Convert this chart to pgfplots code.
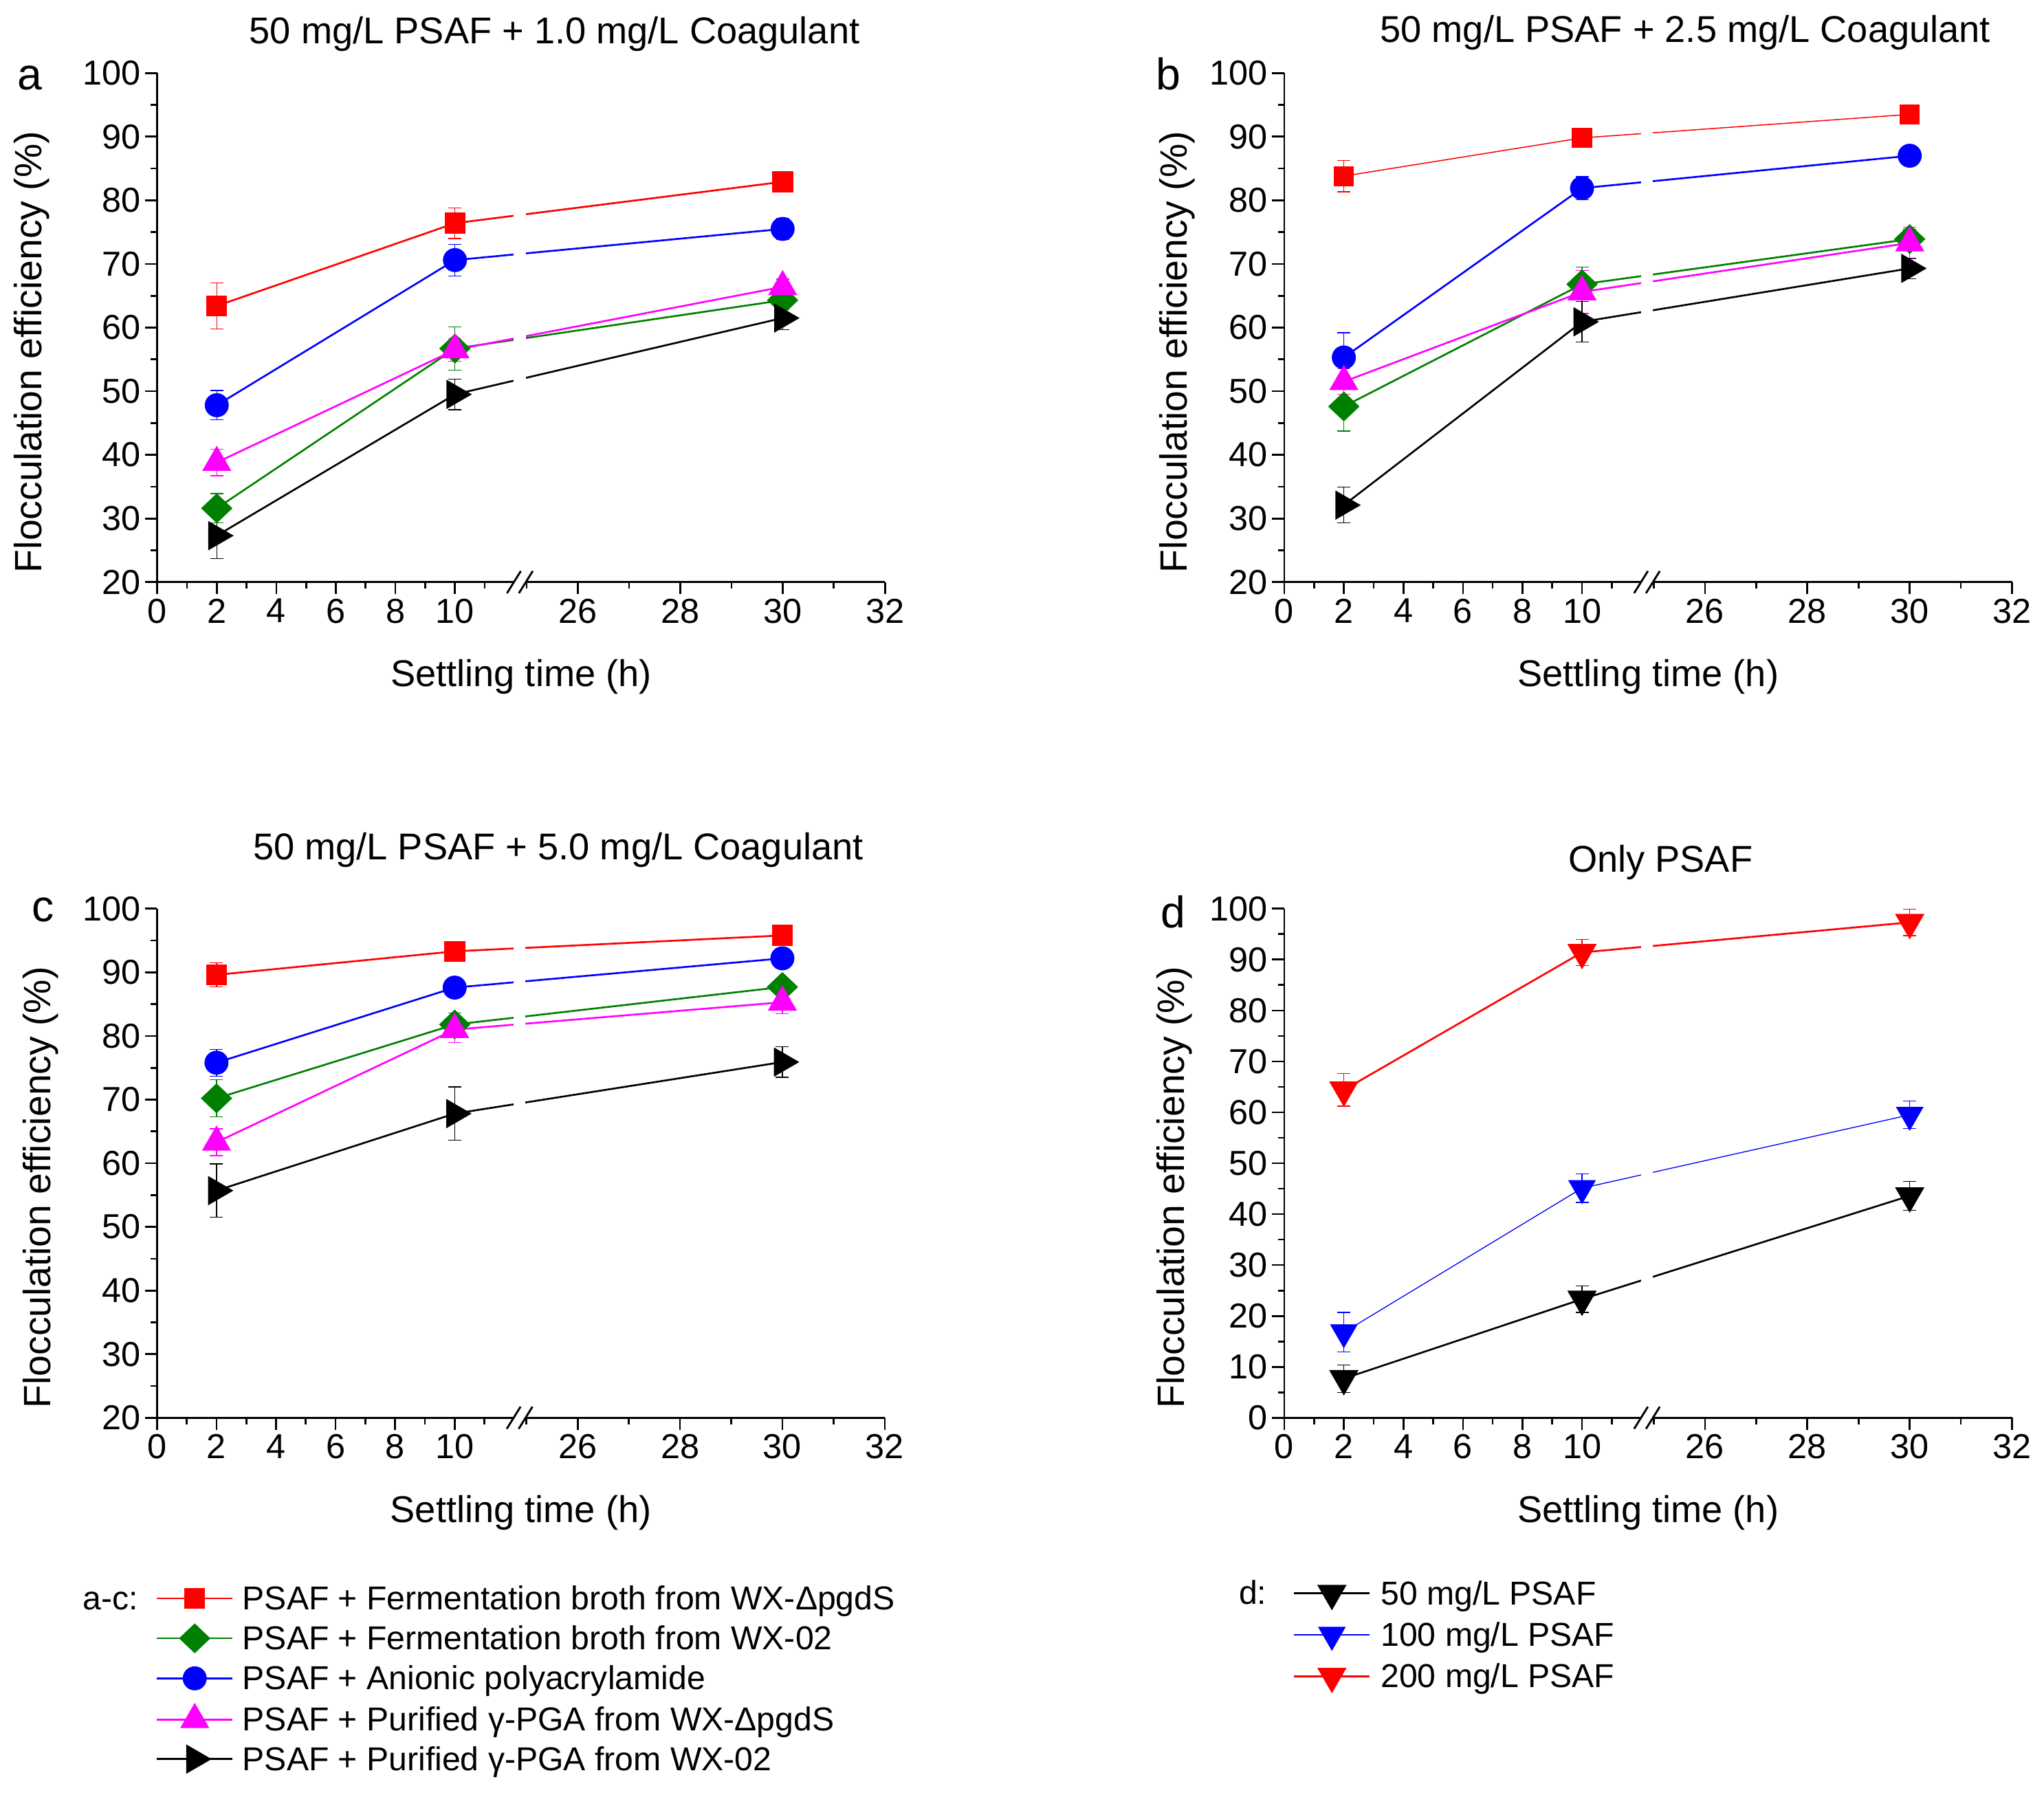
\documentclass[border=0pt]{standalone}
\usepackage{fontspec}
\setmainfont{Liberation Sans}
\usepackage{pgfplots}
\usepackage{pgfplotstable}
\pgfplotsset{compat=1.18}
\definecolor{mygreen}{RGB}{0,128,0}
\definecolor{mymag}{RGB}{255,0,255}
\definecolor{myred}{RGB}{255,0,0}
\definecolor{myblue}{RGB}{0,0,255}
\newcommand{\ticksize}{\fontsize{13.3pt}{15pt}\selectfont}
\newcommand{\labsize}{\fontsize{14.3pt}{16pt}\selectfont}
\newcommand{\ylabsize}{\fontsize{14.6pt}{16pt}\selectfont}
\newcommand{\legsize}{\fontsize{12.7pt}{14pt}\selectfont}
\newcommand{\letsize}{\fontsize{17pt}{19pt}\selectfont}

% ---------- data: t = settling time (h), y = efficiency (%), e = error ----------
\pgfplotstableread{
t y e
2 63.4 3.6
10 76.4 2.4
30 82.9 1.5
}\aRed
\pgfplotstableread{
t y e
2 31.6 2.3
10 56.7 3.4
30 64.3 1.5
}\aGreen
\pgfplotstableread{
t y e
2 47.8 2.3
10 70.6 2.5
30 75.5 1.7
}\aBlue
\pgfplotstableread{
t y e
2 38.8 2.1
10 56.5 1.8
30 66.4 1.2
}\aMag
\pgfplotstableread{
t y e
2 27.3 3.6
10 49.5 2.4
30 61.5 1.8
}\aBlack

\pgfplotstableread{
t y e
2 83.8 2.45
10 89.8 0.9
30 93.5 0.8
}\bRed
\pgfplotstableread{
t y e
2 47.6 3.85
10 66.8 2.7
30 73.9 1.5
}\bGreen
\pgfplotstableread{
t y e
2 55.3 3.9
10 81.9 1.8
30 87.0 1.0
}\bBlue
\pgfplotstableread{
t y e
2 51.5 2.0
10 65.6 3.4
30 73.3 2.5
}\bMag
\pgfplotstableread{
t y e
2 32.1 2.8
10 60.9 3.2
30 69.3 1.6
}\bBlack

\pgfplotstableread{
t y e
2 89.6 1.9
10 93.3 1.0
30 95.8 1.0
}\cRed
\pgfplotstableread{
t y e
2 70.2 2.9
10 81.8 1.8
30 87.7 1.0
}\cGreen
\pgfplotstableread{
t y e
2 75.8 2.1
10 87.6 1.0
30 92.2 1.5
}\cBlue
\pgfplotstableread{
t y e
2 63.3 2.1
10 81.0 2.0
30 85.3 1.8
}\cMag
\pgfplotstableread{
t y e
2 55.7 4.2
10 67.8 4.2
30 75.9 2.4
}\cBlack

\pgfplotstableread{
t y e
2 7.7 2.7
10 23.3 2.6
30 43.6 2.8
}\dBlack
\pgfplotstableread{
t y e
2 16.8 3.9
10 45.1 2.8
30 59.5 2.7
}\dBlue
\pgfplotstableread{
t y e
2 64.4 3.2
10 91.4 2.6
30 97.3 2.6
}\dRed

% broken time axis: 0..12 and 24.8..32, the right part drawn 1.719 times wider
\newcommand{\ux}{\thisrow{t}+(\thisrow{t}>20)*(0.719*\thisrow{t}-30.564)}

\pgfplotsset{
  panel/.style={
    scale only axis, width=279.15pt, height=195.3pt,
    xmin=0, xmax=24.444,
    axis x line*=bottom, axis y line*=left,
    axis line style={line width=0.75pt, -},
    tick align=outside,
    major tick length=4.65pt, minor tick length=2.45pt,
    every tick/.style={line width=0.7pt, black},
    xtick={0,2,4,6,8,10,14.13,17.568,21.006,24.444},
    xticklabels={0,2,4,6,8,10,26,28,30,32},
    minor xtick={1,3,5,7,9,11,12.41,15.849,19.287,22.725},
    ytick distance=10, minor y tick num=1,
    tick label style={font=\ticksize},
    xticklabel style={inner sep=0pt, anchor=north, yshift=-1.5pt},
    yticklabel style={inner sep=0pt, anchor=east, xshift=-1.5pt},
    /pgf/number format/assume math mode=true,
    clip=false,
    xlabel={Settling time (h)}, ylabel={Flocculation efficiency (\%)},
    xlabel style={font=\labsize, at={(axis description cs:0.5,0)}, anchor=base, yshift=-40pt},
    ylabel style={font=\ylabsize},
    legend cell align=left,
    legend image code/.code={\draw[mark repeat=2,mark phase=2,##1] plot coordinates {(0pt,0pt) (14.5pt,0pt) (29pt,0pt)};},
  },
  eb/.style={error bars/y dir=both, error bars/y explicit,
    error bars/error bar style={line width=0.35pt, solid},
    error bars/error mark options={rotate=90, mark size=2.5pt, line width=0.35pt}},
  sRed/.style={myred, line width=0.7pt, mark=square*, mark size=3.65pt, eb},
  sGreen/.style={mygreen, line width=0.7pt, mark=diamond*, mark size=5.25pt, mark options={xscale=1.4}, eb},
  sBlue/.style={myblue, line width=0.7pt, mark=*, mark size=4.25pt, eb},
  sMag/.style={mymag, line width=0.7pt, mark=triangle*, mark size=5.75pt, eb},
  sBlack/.style={black, line width=0.7pt, mark=triangle*, mark size=5.8pt, mark options={rotate=-90}, eb},
  sDown/.style={mark=triangle*, mark size=5.8pt, mark options={rotate=180}, eb},
}

\begin{document}
\begin{tikzpicture}
\useasboundingbox (0,0) rectangle (784pt,688.3pt);

% ---------------- panel a ----------------
\begin{axis}[panel, at={(60.3pt,465pt)}, anchor=south west,
  ymin=20, ymax=100,
  ylabel style={at={(axis description cs:-0.1585,0.452)}, anchor=base}]
\addplot[sRed] table[x expr={\ux}, y=y, y error=e]{\aRed};
\addplot[sGreen] table[x expr={\ux}, y=y, y error=e]{\aGreen};
\addplot[sBlue] table[x expr={\ux}, y=y, y error=e]{\aBlue};
\addplot[sMag] table[x expr={\ux}, y=y, y error=e]{\aMag};
\addplot[sBlack] table[x expr={\ux}, y=y, y error=e]{\aBlack};
\coordinate (A1) at (axis cs:11.98,20);
\coordinate (A2) at (axis cs:12.38,20);
\coordinate (A3) at (axis cs:12.38,100);
\end{axis}

% ---------------- panel b ----------------
\begin{axis}[panel, at={(492.6pt,465pt)}, anchor=south west,
  ymin=20, ymax=100,
  ylabel style={at={(axis description cs:-0.134,0.452)}, anchor=base}]
\addplot[sRed, line width=0.4pt] table[x expr={\ux}, y=y, y error=e]{\bRed};
\addplot[sGreen] table[x expr={\ux}, y=y, y error=e]{\bGreen};
\addplot[sBlue] table[x expr={\ux}, y=y, y error=e]{\bBlue};
\addplot[sMag] table[x expr={\ux}, y=y, y error=e]{\bMag};
\addplot[sBlack] table[x expr={\ux}, y=y, y error=e]{\bBlack};
\coordinate (B1) at (axis cs:11.98,20);
\coordinate (B2) at (axis cs:12.38,20);
\coordinate (B3) at (axis cs:12.38,100);
\end{axis}

% ---------------- panel c ----------------
\begin{axis}[panel, at={(60.2pt,144.45pt)}, anchor=south west,
  ymin=20, ymax=100,
  ylabel style={at={(axis description cs:-0.1462,0.4524)}, anchor=base},
  legend style={at={(-0.0013,-0.3305)}, anchor=north west, draw=none, fill=none,
    inner sep=0pt, outer sep=0pt, font=\legsize, row sep=5.4pt,
    nodes={inner sep=0pt, text height=9pt, text depth=0.4pt},
    /tikz/every odd column/.append style={column sep=3.5pt}}]
\addplot[sRed] table[x expr={\ux}, y=y, y error=e]{\cRed};
\addlegendentry{PSAF + Fermentation broth from WX-ΔpgdS}
\addplot[sGreen] table[x expr={\ux}, y=y, y error=e]{\cGreen};
\addlegendentry{PSAF + Fermentation broth from WX-02}
\addplot[sBlue] table[x expr={\ux}, y=y, y error=e]{\cBlue};
\addlegendentry{PSAF + Anionic polyacrylamide}
\addplot[sMag] table[x expr={\ux}, y=y, y error=e]{\cMag};
\addlegendentry{PSAF + Purified γ-PGA from WX-ΔpgdS}
\addplot[sBlack] table[x expr={\ux}, y=y, y error=e]{\cBlack};
\addlegendentry{PSAF + Purified γ-PGA from WX-02}
\coordinate (C1) at (axis cs:11.98,20);
\coordinate (C2) at (axis cs:12.38,20);
\coordinate (C3) at (axis cs:12.38,100);
\end{axis}

% ---------------- panel d ----------------
\begin{axis}[panel, at={(492.6pt,144.45pt)}, anchor=south west,
  ymin=0, ymax=100,
  ylabel style={at={(axis description cs:-0.1379,0.4524)}, anchor=base},
  legend style={at={(0.0122,-0.3208)}, anchor=north west, draw=none, fill=none,
    inner sep=0pt, outer sep=0pt, font=\legsize, row sep=5.4pt,
    nodes={inner sep=0pt, text height=9pt, text depth=0.4pt},
    /tikz/every odd column/.append style={column sep=3.9pt}}]
\addplot[black, line width=0.7pt, sDown] table[x expr={\ux}, y=y, y error=e]{\dBlack};
\addlegendentry{50 mg/L PSAF}
\addplot[myblue, line width=0.35pt, sDown] table[x expr={\ux}, y=y, y error=e]{\dBlue};
\addlegendentry{100 mg/L PSAF}
\addplot[myred, line width=0.7pt, sDown] table[x expr={\ux}, y=y, y error=e]{\dRed};
\addlegendentry{200 mg/L PSAF}
\coordinate (D1) at (axis cs:11.98,0);
\coordinate (D2) at (axis cs:12.38,0);
\coordinate (D3) at (axis cs:12.38,100);
\end{axis}

% ---------------- axis breaks ----------------
\foreach \P in {A,B,C,D}{
  \fill[white] ([yshift=1.5pt]\P1) rectangle (\P3);
  \draw[white, line width=1.8pt] (\P1) -- (\P2);
  \draw[black, line width=0.75pt] ([shift={(-2.65pt,-4.25pt)}]\P1) -- ([shift={(2.65pt,4.25pt)}]\P1);
  \draw[black, line width=0.75pt] ([shift={(-2.65pt,-4.25pt)}]\P2) -- ([shift={(2.65pt,4.25pt)}]\P2);
}

% ---------------- titles and panel letters ----------------
\node[anchor=base, font=\labsize, inner sep=0pt] at (212.7pt,671.65pt) {50 mg/L PSAF + 1.0 mg/L Coagulant};
\node[anchor=base, font=\labsize, inner sep=0pt] at (646.4pt,671.95pt) {50 mg/L PSAF + 2.5 mg/L Coagulant};
\node[anchor=base, font=\labsize, inner sep=0pt] at (214.1pt,358.55pt) {50 mg/L PSAF + 5.0 mg/L Coagulant};
\node[anchor=base, font=\labsize, inner sep=0pt] at (636.9pt,353.7pt) {Only PSAF};

\node[anchor=base, font=\letsize, inner sep=0pt] at (11.5pt,653.8pt) {a};
\node[anchor=base, font=\letsize, inner sep=0pt] at (448.2pt,653.8pt) {b};
\node[anchor=base, font=\letsize, inner sep=0pt] at (16.5pt,334.8pt) {c};
\node[anchor=base, font=\letsize, inner sep=0pt] at (450pt,332.5pt) {d};

\node[anchor=base east, font=\legsize, inner sep=0pt] at (53.2pt,70.95pt) {a-c:};
\node[anchor=base east, font=\legsize, inner sep=0pt] at (486pt,72.85pt) {d:};
\end{tikzpicture}
\end{document}
